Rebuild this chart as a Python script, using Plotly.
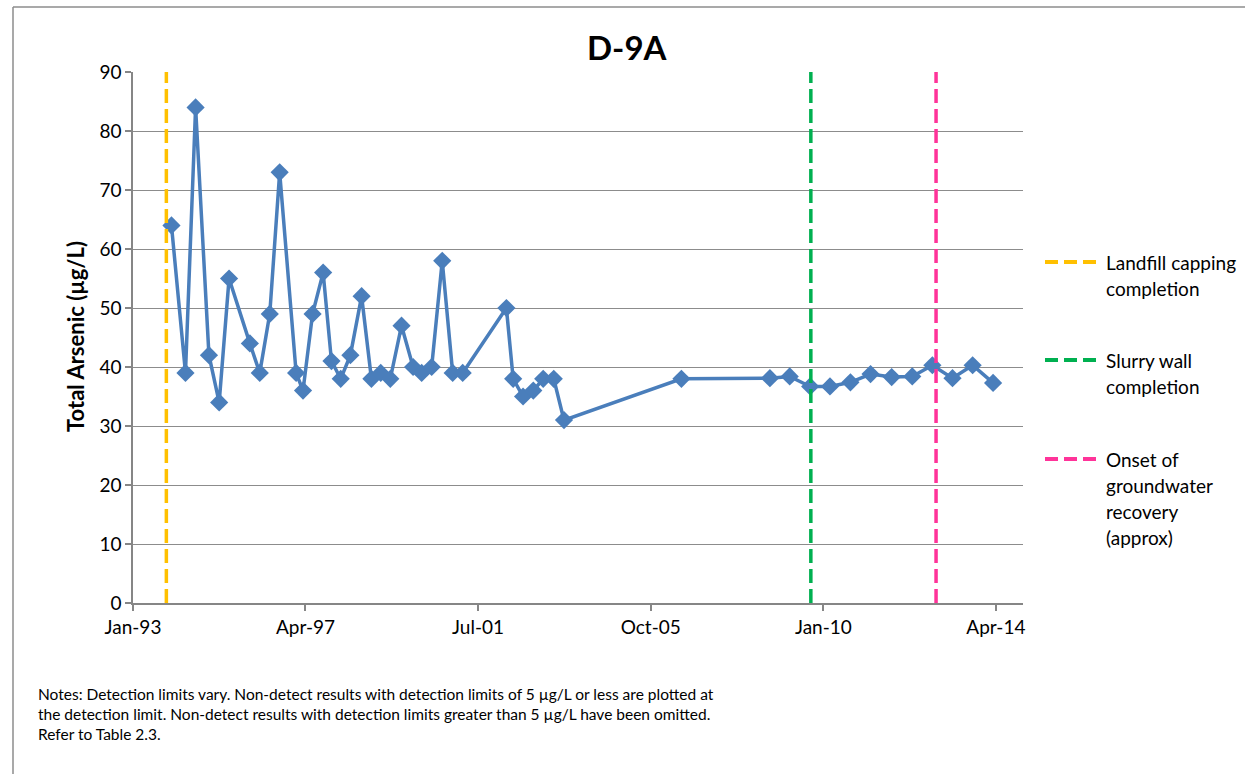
import plotly.graph_objects as go

# ---- data ----
sample_dates = [
    "1993-12-13", "1994-04-18", "1994-07-18", "1994-11-15", "1995-02-15", "1995-05-15",
    "1995-11-18", "1996-02-15", "1996-05-15", "1996-08-12", "1997-01-07", "1997-03-10",
    "1997-06-04", "1997-09-07", "1997-11-21", "1998-02-12", "1998-05-10", "1998-08-19",
    "1998-11-15", "1999-02-07", "1999-05-04", "1999-08-13", "1999-11-25", "2000-02-10",
    "2000-05-10", "2000-08-13", "2000-11-15", "2001-02-13", "2002-03-13", "2002-05-13",
    "2002-08-10", "2002-11-10", "2003-02-07", "2003-05-13", "2003-08-13", "2006-07-04",
    "2008-09-07", "2009-03-04", "2009-09-04", "2010-03-01", "2010-09-01", "2011-03-01",
    "2011-09-07", "2012-03-10", "2012-09-07", "2013-03-07", "2013-09-04", "2014-03-07",
]
arsenic = [
    64, 39, 84, 42, 34, 55,
    44, 39, 49, 73, 39, 36,
    49, 56, 41, 38, 42, 52,
    38, 39, 38, 47, 40, 39,
    40, 58, 39, 39, 50, 38,
    35, 36, 38, 38, 31, 38,
    38.1, 38.4, 36.7, 36.7, 37.4, 38.8,
    38.3, 38.4, 40.3, 38.1, 40.3, 37.3,
]

event_names = ["Landfill capping<br>completion", "Slurry wall<br>completion",
               "Onset of<br>groundwater<br>recovery<br>(approx)"]
event_dates = ["1993-10-28", "2009-09-10", "2012-10-10"]
event_colors = ["#FFC000", "#00B050", "#FF3399"]

tick_dates = ["1993-01-01", "1997-04-01", "2001-07-01", "2005-10-01", "2010-01-01", "2014-04-01"]
tick_labels = ["Jan-93", "Apr-97", "Jul-01", "Oct-05", "Jan-10", "Apr-14"]
y_ticks = [0, 10, 20, 30, 40, 50, 60, 70, 80, 90]

FONT = "Lato"
W, H = 1245, 774
L, R, T, B = 133, 1023, 72, 603
pw, ph = R - L, B - T

def px(x):
    return (x - L) / pw

def py(y):
    return (B - y) / ph

fig = go.Figure()

fig.add_trace(go.Scatter(
    x=sample_dates, y=arsenic, mode="lines+markers",
    line=dict(color="#4A7EBB", width=3.5),
    marker=dict(symbol="diamond", size=14, color="#4A7EBB"),
    showlegend=False, hoverinfo="x+y",
))

for name, d, c in zip(event_names, event_dates, event_colors):
    fig.add_trace(go.Scatter(
        x=[d, d], y=[0, 90], mode="lines",
        line=dict(color=c, width=3.5, dash="14px,6px"),
        showlegend=False, hoverinfo="skip",
    ))

shapes = []
annotations = []

# legend (manual)
leg_y = [262, 360, 459]
for name, c, yy in zip(event_names, event_colors, leg_y):
    shapes.append(dict(type="line", xref="paper", yref="paper",
                       x0=px(1045), x1=px(1098), y0=py(yy), y1=py(yy),
                       line=dict(color=c, width=4, dash="13px,6px")))
    for i, line_text in enumerate(name.split("<br>")):
        annotations.append(dict(xref="paper", yref="paper", x=px(1104), y=py(yy + 26 * i),
                                xanchor="left", yanchor="middle", showarrow=False, align="left",
                                text=line_text, font=dict(family=FONT, size=19, color="#000000")))

# outer frame lines (left and top)
shapes.append(dict(type="line", xref="paper", yref="paper",
                   x0=px(13), x1=px(13), y0=py(7), y1=py(774),
                   line=dict(color="#8C8C8C", width=1.5)))
shapes.append(dict(type="line", xref="paper", yref="paper",
                   x0=px(13), x1=px(1245), y0=py(7), y1=py(7),
                   line=dict(color="#8C8C8C", width=1.5)))

# title
annotations.append(dict(xref="paper", yref="paper", x=px(627), y=py(47),
                        xanchor="center", yanchor="middle", showarrow=False,
                        text="<b>D-9A</b>", font=dict(family=FONT, size=33, color="#000000")))

# y-axis title
annotations.append(dict(xref="paper", yref="paper", x=px(75), y=py(337),
                        xanchor="center", yanchor="middle", showarrow=False, textangle=-90,
                        text="<b>Total Arsenic (µg/L)</b>", font=dict(family=FONT, size=22, color="#000000")))

# notes
annotations.append(dict(xref="paper", yref="paper", x=px(36), y=py(683),
                        xanchor="left", yanchor="top", showarrow=False, align="left",
                        text=("Notes: Detection limits vary. Non-detect results with detection limits of 5 µg/L or less are plotted at<br>"
                              "the detection limit. Non-detect results with detection limits greater than 5 µg/L have been omitted.<br>"
                              "Refer to Table 2.3."),
                        font=dict(family=FONT, size=15.5, color="#000000")))

fig.update_layout(
    width=W, height=H,
    margin=dict(l=L, r=W - R, t=T, b=H - B),
    paper_bgcolor="white", plot_bgcolor="white",
    shapes=shapes, annotations=annotations,
    font=dict(family=FONT, size=19, color="#000000"),
    xaxis=dict(
        type="date", range=["1993-01-01", "2014-12-01"],
        tickmode="array", tickvals=tick_dates, ticktext=tick_labels,
        showgrid=False, zeroline=False,
        showline=True, linecolor="#868686", linewidth=1.5,
        ticks="outside", ticklen=6, tickcolor="#868686", tickwidth=1.5,
        tickfont=dict(family=FONT, size=19),
    ),
    yaxis=dict(
        range=[0, 90], tickmode="array", tickvals=y_ticks,
        showgrid=True, gridcolor="#8C8C8C", gridwidth=1,
        zeroline=False,
        showline=True, linecolor="#868686", linewidth=1.5,
        ticks="outside", ticklen=6, tickcolor="#868686", tickwidth=1.5,
        tickfont=dict(family=FONT, size=19),
    ),
)

fig.write_html("out.html", config={"displayModeBar": False},
               post_script="document.body.style.margin='0';document.body.style.overflow='hidden';")
